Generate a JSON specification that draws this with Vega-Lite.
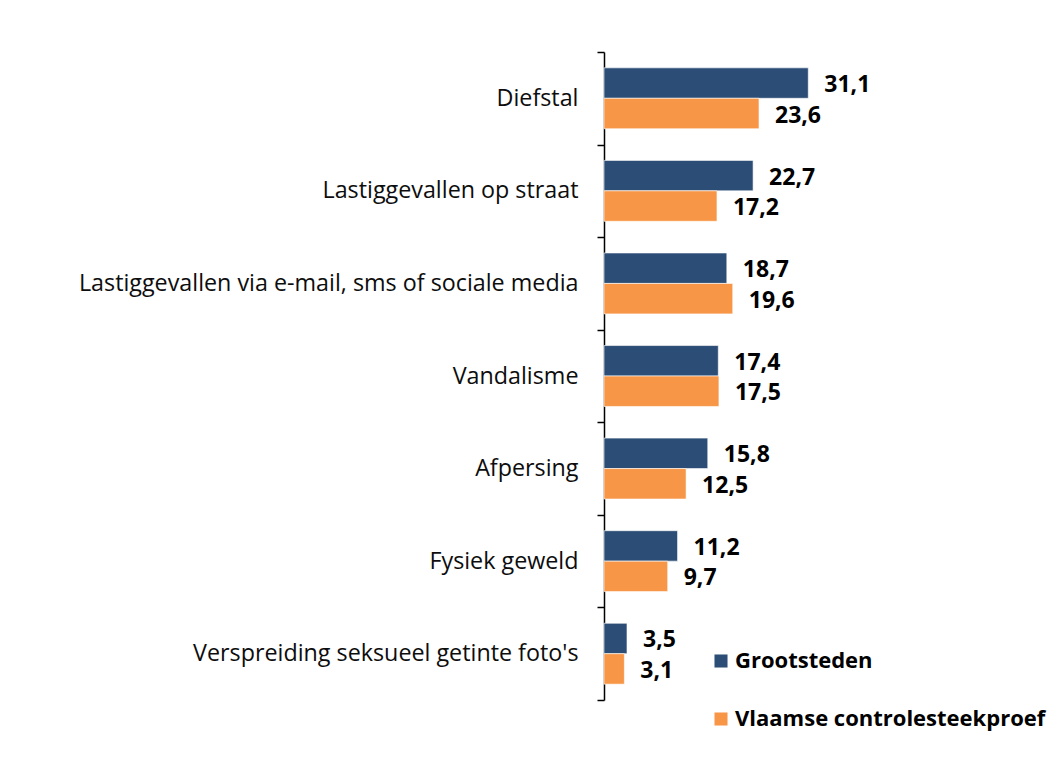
{
  "$schema": "https://vega.github.io/schema/vega-lite/v6.json",
  "autosize": {"type": "none"},
  "padding": {"left": 604, "top": 52, "right": 164, "bottom": 57},
  "width": 289,
  "height": 648,
  "background": "white",
  "config": {
    "view": {"stroke": null},
    "font": "Open Sans"
  },
  "data": {
    "values": [
      {"cat": "Diefstal", "group": "Grootsteden", "value": 31.1, "label": "31,1"},
      {"cat": "Diefstal", "group": "Vlaamse controlesteekproef", "value": 23.6, "label": "23,6"},
      {"cat": "Lastiggevallen op straat", "group": "Grootsteden", "value": 22.7, "label": "22,7"},
      {"cat": "Lastiggevallen op straat", "group": "Vlaamse controlesteekproef", "value": 17.2, "label": "17,2"},
      {"cat": "Lastiggevallen via e-mail, sms of sociale media", "group": "Grootsteden", "value": 18.7, "label": "18,7"},
      {"cat": "Lastiggevallen via e-mail, sms of sociale media", "group": "Vlaamse controlesteekproef", "value": 19.6, "label": "19,6"},
      {"cat": "Vandalisme", "group": "Grootsteden", "value": 17.4, "label": "17,4"},
      {"cat": "Vandalisme", "group": "Vlaamse controlesteekproef", "value": 17.5, "label": "17,5"},
      {"cat": "Afpersing", "group": "Grootsteden", "value": 15.8, "label": "15,8"},
      {"cat": "Afpersing", "group": "Vlaamse controlesteekproef", "value": 12.5, "label": "12,5"},
      {"cat": "Fysiek geweld ", "group": "Grootsteden", "value": 11.2, "label": "11,2"},
      {"cat": "Fysiek geweld ", "group": "Vlaamse controlesteekproef", "value": 9.7, "label": "9,7"},
      {"cat": "Verspreiding seksueel getinte foto's", "group": "Grootsteden", "value": 3.5, "label": "3,5"},
      {"cat": "Verspreiding seksueel getinte foto's", "group": "Vlaamse controlesteekproef", "value": 3.1, "label": "3,1"}
    ]
  },
  "encoding": {
    "y": {
      "field": "cat", "type": "nominal", "sort": null,
      "scale": {"paddingInner": 0, "paddingOuter": 0},
      "axis": {
        "title": null,
        "tickBand": "extent",
        "labelFontSize": 23.3,
        "labelColor": "#0d0d0d",
        "labelPadding": 19,
        "labelLimit": 700,
        "tickSize": 7,
        "tickColor": "#000000",
        "tickWidth": 1.5,
        "domainColor": "#000000",
        "domainWidth": 1.5,
        "grid": false
      }
    },
    "yOffset": {
      "field": "group", "type": "nominal",
      "scale": {"paddingInner": 0, "paddingOuter": 0.52}
    },
    "x": {
      "field": "value", "type": "quantitative",
      "scale": {"domain": [0, 44]},
      "axis": null
    }
  },
  "layer": [
    {
      "mark": {"type": "bar", "stroke": "#ffffff", "strokeWidth": 0.6},
      "encoding": {
        "color": {
          "field": "group", "type": "nominal",
          "scale": {"domain": ["Grootsteden", "Vlaamse controlesteekproef"], "range": ["#2C4D75", "#F79646"]},
          "legend": {
            "title": null,
            "orient": "none",
            "legendX": 106,
            "legendY": 598,
            "symbolType": "square",
            "symbolSize": 170,
            "symbolStrokeWidth": 0,
            "labelFontSize": 22,
            "labelFontWeight": "bold",
            "labelColor": "#000000",
            "labelOffset": 3,
            "labelLimit": 400,
            "rowPadding": 36
          }
        }
      }
    },
    {
      "mark": {"type": "text", "align": "left", "baseline": "middle", "dx": 16, "dy": 2, "fontSize": 23, "fontWeight": "bold", "color": "#000000"},
      "encoding": {
        "text": {"field": "label", "type": "nominal"}
      }
    }
  ]
}
